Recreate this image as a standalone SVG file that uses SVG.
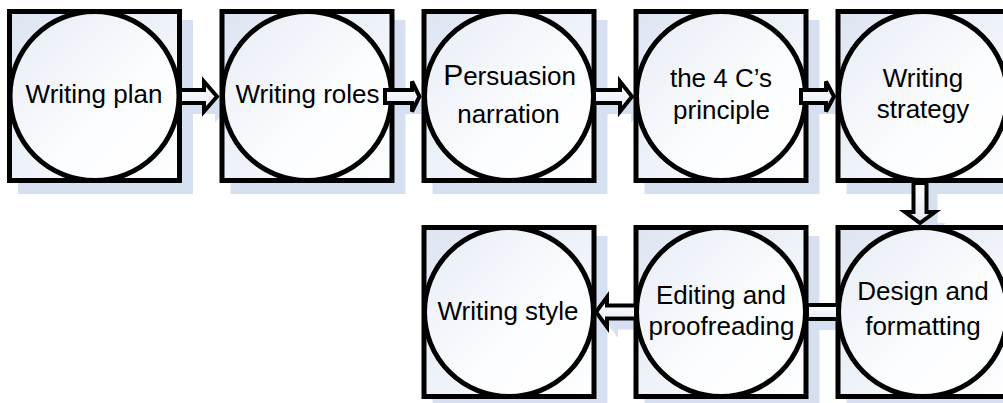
<svg xmlns="http://www.w3.org/2000/svg" width="1003" height="403" viewBox="0 0 1003 403">
  <style>
    .sq { fill: url(#sqFill); stroke: #000; stroke-width: 5; }
    .ci { fill: url(#ciFill); stroke: #000; stroke-width: 5; }
    .sh { fill: #d7e0f0; }
    .ar { fill: url(#arFill); stroke: #000; stroke-width: 4; stroke-linejoin: miter; }
    .lbl { font-family: "Liberation Sans", Arial, sans-serif; font-size: 26px; fill: #000; text-anchor: middle; }
  </style>
  <defs>
    <linearGradient id="sqFill" x1="0" y1="0" x2="1" y2="1">
      <stop offset="0" stop-color="#dde5f2"/>
      <stop offset="1" stop-color="#ffffff"/>
    </linearGradient>
    <linearGradient id="ciFill" x1="0" y1="0" x2="1" y2="1">
      <stop offset="0" stop-color="#e6ebf5"/>
      <stop offset="0.6" stop-color="#fcfdfe"/>
      <stop offset="1" stop-color="#ffffff"/>
    </linearGradient>
    <linearGradient id="arFill" x1="0" y1="0" x2="0" y2="1">
      <stop offset="0" stop-color="#ffffff"/>
      <stop offset="1" stop-color="#e4eaf4"/>
    </linearGradient>
  </defs>

  <rect width="1003" height="403" fill="#ffffff"/>

  <!-- drop shadows, offset down-right -->
  <g id="shadows">
    <rect class="sh" x="18" y="20" width="175" height="174"/>
    <rect class="sh" x="230.5" y="20" width="175" height="174"/>
    <rect class="sh" x="432.5" y="20" width="175" height="174"/>
    <rect class="sh" x="644.5" y="20" width="175" height="174"/>
    <rect class="sh" x="846.5" y="20" width="175" height="174"/>
    <rect class="sh" x="432.5" y="236" width="175" height="174"/>
    <rect class="sh" x="644.5" y="236" width="175" height="174"/>
    <rect class="sh" x="846.5" y="236" width="175" height="174"/>
    <path class="sh" d="M191,101 H215 V92.5 L228,107.5 L215,122.5 V114 H191 Z"/>
    <path class="sh" d="M396,101 H423 V92.5 L430.5,107.5 L423,122.5 V114 H396 Z"/>
    <path class="sh" d="M605,101 H631 V92.5 L643,107.5 L631,122.5 V114 H605 Z"/>
    <path class="sh" d="M812,101 H837 V92.5 L845,107.5 L837,122.5 V114 H812 Z"/>
    <path class="sh" d="M924.5,194 V223 H916 L931,234 L946,223 H937.5 V194 Z"/>
    <rect class="sh" x="818" y="316" width="32" height="14"/>
    <path class="sh" d="M647,316.5 H618 V308 L607,323 L618,338 V329.5 H647 Z"/>
  </g>

  <g id="node-writing-plan">
    <rect class="sq" x="9.5" y="11.5" width="170" height="169"/>
    <circle class="ci" cx="94.5" cy="96" r="84.5"/>
    <text class="lbl" x="94" y="103">Writing plan</text>
  </g>

  <g id="node-writing-roles">
    <rect class="sq" x="222" y="11.5" width="170" height="169"/>
    <circle class="ci" cx="307" cy="96" r="84.5"/>
    <text class="lbl" x="307.5" y="103">Writing roles</text>
  </g>

  <g id="node-persuasion-narration">
    <rect class="sq" x="424" y="11.5" width="170" height="169"/>
    <circle class="ci" cx="509" cy="96" r="84.5"/>
    <text class="lbl" x="509.5" y="85"><tspan font-size="30">P</tspan>ersuasion</text>
    <text class="lbl" x="508.5" y="123">narration</text>
  </g>

  <g id="node-four-cs-principle">
    <rect class="sq" x="636" y="11.5" width="170" height="169"/>
    <circle class="ci" cx="721" cy="96" r="84.5"/>
    <text class="lbl" x="721" y="87">the 4 C’s</text>
    <text class="lbl" x="721.5" y="119">principle</text>
  </g>

  <g id="node-writing-strategy">
    <rect class="sq" x="838" y="11.5" width="170" height="169"/>
    <circle class="ci" cx="923" cy="96" r="84.5"/>
    <text class="lbl" x="923" y="87">Writing</text>
    <text class="lbl" x="923" y="118">strategy</text>
  </g>

  <g id="node-writing-style">
    <rect class="sq" x="424" y="227.5" width="170" height="169"/>
    <circle class="ci" cx="509" cy="312" r="84.5"/>
    <text class="lbl" x="508" y="320">Writing style</text>
  </g>

  <g id="node-editing-proofreading">
    <rect class="sq" x="636" y="227.5" width="170" height="169"/>
    <circle class="ci" cx="721" cy="312" r="84.5"/>
    <text class="lbl" x="721" y="304">Editing and</text>
    <text class="lbl" x="721.5" y="335">proofreading</text>
  </g>

  <g id="node-design-formatting">
    <rect class="sq" x="838" y="227.5" width="170" height="169"/>
    <circle class="ci" cx="923" cy="312" r="84.5"/>
    <text class="lbl" x="923" y="300">Design and</text>
    <text class="lbl" x="923" y="335">formatting</text>
  </g>

  <!-- block arrows between steps -->
  <g id="connectors">
    <path class="ar" d="M180,90 H204 V81.5 L217,96.5 L204,111.5 V103 H180 Z"/>
    <path class="ar" d="M385,90 H412 V81.5 L419.5,96.5 L412,111.5 V103 H385 Z"/>
    <path class="ar" d="M594,90 H620 V81.5 L632,96.5 L620,111.5 V103 H594 Z"/>
    <path class="ar" d="M801,90 H826 V81.5 L834,96.5 L826,111.5 V103 H801 Z"/>
    <path class="ar" d="M913.5,183 V212 H905 L920,223 L935,212 H926.5 V183 Z"/>
    <rect class="ar" x="807" y="305" width="31" height="14"/>
    <path class="ar" d="M636,305.5 H607 V297 L596,312 L607,327 V318.5 H636 Z"/>
  </g>
</svg>
